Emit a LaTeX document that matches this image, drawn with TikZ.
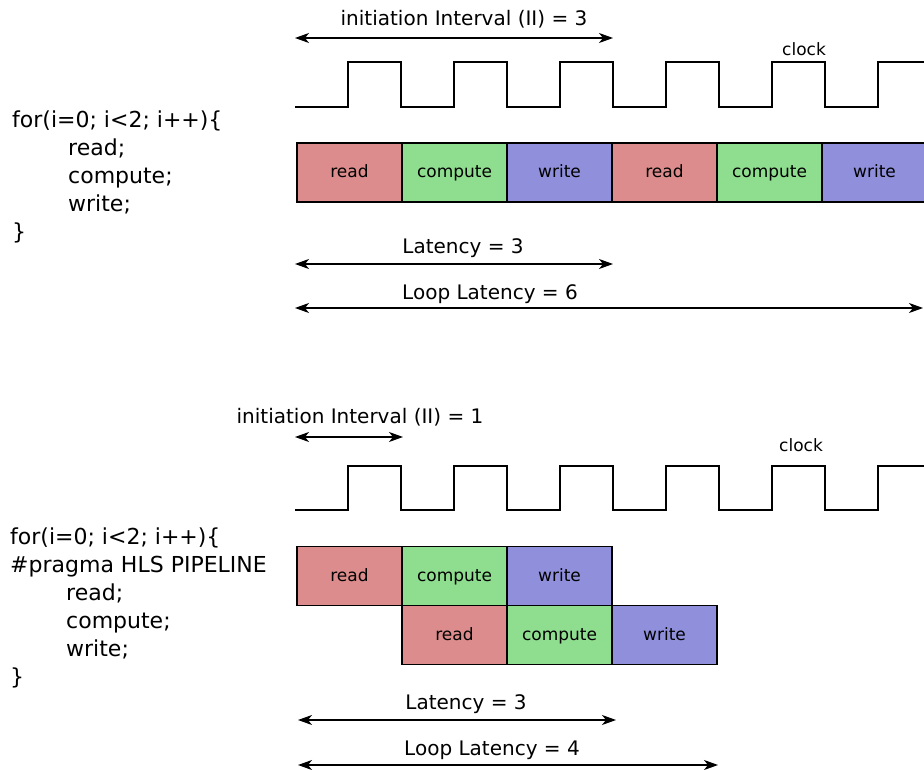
\documentclass[tikz,border=0pt]{standalone}
\usepackage{fontspec}
\setmainfont{DejaVu Sans}
\usetikzlibrary{arrows.meta}
\definecolor{readcol}{RGB}{220,140,140}
\definecolor{compcol}{RGB}{143,221,143}
\definecolor{writecol}{RGB}{143,143,220}

\begin{document}
\begin{tikzpicture}[x=1pt, y=-1pt,
    stage/.style={rectangle, draw, line width=1.3pt, minimum width=105pt, minimum height=59pt, inner sep=0pt, outer sep=0pt, text height=15pt, text depth=4pt, font=\fontsize{17}{20}\selectfont},
    rd/.style={stage, fill=readcol},
    cp/.style={stage, fill=compcol},
    wr/.style={stage, fill=writecol},
    arrow/.style={<->, >={Stealth[length=14pt, width=10pt, inset=4pt]}, line width=1.3pt},
    wave/.style={line width=1.6pt},
    txt/.style={font=\fontsize{20}{24}\selectfont, inner sep=0pt},
    small/.style={font=\fontsize{17}{20}\selectfont, inner sep=0pt},
    code/.style={font=\fontsize{22}{28}\selectfont, align=left, inner sep=0pt, anchor=north west}
]
    \useasboundingbox (0,0) rectangle (924,770);

    % Ohne Pipeline
    \node[code] (loop1) at (12,111) {for(i=0; i<2; i++)\{\\\hspace*{56pt}read;\\\hspace*{56pt}compute;\\\hspace*{56pt}write;\\\}};

    \node[txt] (ii3) at (464,19.5) {initiation Interval (II) = 3};
    \coordinate (ii3a) at (295,38);
    \coordinate (ii3b) at (613,38);
    \draw[arrow] (ii3a) -- (ii3b);

    \node[small] (clk1) at (804,49) {clock};
    \draw[wave] (295,107) -| (348,62) -| (401,107) -| (454,62) -| (507,107) -| (560,62) -| (613,107)
        -| (666,62) -| (719,107) -| (772,62) -| (825,107) -| (878,62) -- (930,62);

    \node[rd] (r1) at (349.5,172.5) {read};
    \node[cp] (c1) at (454.5,172.5) {compute};
    \node[wr] (w1) at (559.5,172.5) {write};
    \node[rd] (r2) at (664.5,172.5) {read};
    \node[cp] (c2) at (769.5,172.5) {compute};
    \node[wr] (w2) at (874.5,172.5) {write};

    \node[txt] (lat1) at (463,248) {Latency = 3};
    \coordinate (lat1a) at (295,264);
    \coordinate (lat1b) at (613,264);
    \draw[arrow] (lat1a) -- (lat1b);

    \node[txt] (loop6) at (490,294) {Loop Latency = 6};
    \coordinate (loop6a) at (295,308);
    \coordinate (loop6b) at (923,308);
    \draw[arrow] (loop6a) -- (loop6b);

    % Mit Pipeline
    \node[code] (loop2) at (10,528) {for(i=0; i<2; i++)\{\\\#pragma HLS PIPELINE\\\hspace*{56pt}read;\\\hspace*{56pt}compute;\\\hspace*{56pt}write;\\\}};

    \node[txt] (ii1) at (360,417.5) {initiation Interval (II) = 1};
    \coordinate (ii1a) at (295,437);
    \coordinate (ii1b) at (403,437);
    \draw[arrow] (ii1a) -- (ii1b);

    \node[small] (clk2) at (801,445) {clock};
    \draw[wave] (295,510) -| (348,466) -| (401,510) -| (454,466) -| (507,510) -| (560,466) -| (613,510)
        -| (666,466) -| (719,510) -| (772,466) -| (825,510) -| (878,466) -- (930,466);

    \node[rd] (r3) at (349.5,576) {read};
    \node[cp] (c3) at (454.5,576) {compute};
    \node[wr] (w3) at (559.5,576) {write};
    \node[rd] (r4) at (454.5,635) {read};
    \node[cp] (c4) at (559.5,635) {compute};
    \node[wr] (w4) at (664.5,635) {write};

    \node[txt] (lat2) at (466,704) {Latency = 3};
    \coordinate (lat2a) at (298,720);
    \coordinate (lat2b) at (616,720);
    \draw[arrow] (lat2a) -- (lat2b);

    \node[txt] (loop4) at (492,750) {Loop Latency = 4};
    \coordinate (loop4a) at (298,765);
    \coordinate (loop4b) at (718,765);
    \draw[arrow] (loop4a) -- (loop4b);
\end{tikzpicture}
\end{document}
